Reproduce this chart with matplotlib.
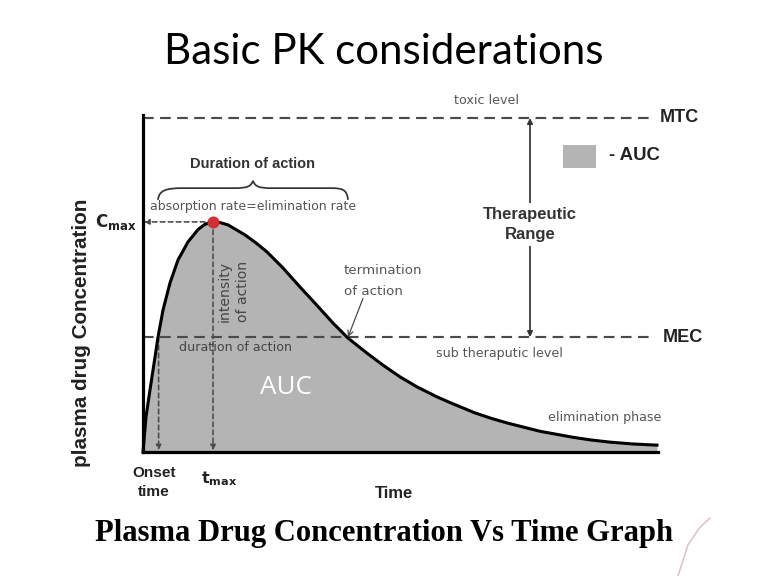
import numpy as np
import matplotlib.pyplot as plt
from matplotlib.path import Path
from matplotlib.patches import PathPatch, Rectangle

# Plasma concentration curve (time in h, concentration in arbitrary units)
time = [0.0, 0.15, 0.35, 0.6, 0.75, 1.0, 1.35, 1.75, 2.25, 2.75, 3.1, 3.5, 3.85, 4.25,
        5.1, 5.65, 6.2, 7.0, 7.85, 8.7, 9.5, 10.25, 11.2, 12.0, 12.85, 13.7, 14.7,
        15.35, 16.6, 17.4, 18.2, 19.85, 21.5, 22.4, 23.35, 24.5, 25.7]
conc = [0.0, 1.05, 1.86, 2.84, 3.44, 4.25, 5.06, 5.75, 6.29, 6.66, 6.82, 6.89, 6.87, 6.80,
        6.50, 6.26, 5.99, 5.51, 4.94, 4.39, 3.86, 3.41, 2.96, 2.60, 2.25, 1.95, 1.65,
        1.48, 1.17, 1.01, 0.87, 0.62, 0.44, 0.36, 0.295, 0.24, 0.205]

mtc = 10.0
mec = 3.44
cmax = 6.89
tmax = 3.5
onset = 0.78
t_end_mec = 10.25

fig = plt.figure(figsize=(8, 6), dpi=96)
ax = fig.add_axes([0, 0, 1, 1])
# pixel-matched frame: 20 px per hour, 33.4 px per concentration unit
ax.set_xlim(-143 / 20, (768 - 143) / 20)
ax.set_ylim(-(576 - 452) / 33.4, 452 / 33.4)
ax.axis('off')

sans = 'Liberation Sans'
grey_txt = '#555555'
dash_col = '#4a4a4a'

# AUC fill and curve
ax.fill_between(time, conc, 0, color='#b4b4b4', lw=0, zorder=1)
ax.plot(time, conc, color='black', lw=2.3, zorder=3, solid_joinstyle='round')

# axes
ax.plot([0, 0], [0, 10.1], color='black', lw=2.4, zorder=4)
ax.plot([0, 25.75], [0, 0], color='black', lw=2.4, zorder=4)

# MTC / MEC levels
ax.plot([0, 25.45], [mtc, mtc], color=dash_col, lw=1.6, ls=(0, (5, 3)), zorder=2)
ax.plot([0, 25.6], [mec, mec], color=dash_col, lw=1.6, ls=(0, (5, 3)), zorder=2)
ax.text(25.85, mtc, 'MTC', fontsize=13.5, fontweight='bold', family=sans, va='center', color='#222222')
ax.text(26.0, mec, 'MEC', fontsize=13.5, fontweight='bold', family=sans, va='center', color='#222222')
ax.text(17.15, 10.51, 'toxic level', fontsize=9.5, color=grey_txt, ha='center', va='center')
ax.text(17.8, 2.96, 'sub theraputic level', fontsize=9.5, color=grey_txt, ha='center', va='center')

# Cmax, tmax, onset markers
arrow_kw = dict(arrowstyle='-|>', color=dash_col, lw=1.2, ls=(0, (3, 2)),
                mutation_scale=8, shrinkA=0, shrinkB=0)
ax.annotate('', xy=(0.05, cmax), xytext=(tmax, cmax), arrowprops=arrow_kw, zorder=2)
ax.annotate('', xy=(tmax, 0.05), xytext=(tmax, cmax), arrowprops=arrow_kw, zorder=2)
ax.annotate('', xy=(onset, 0.05), xytext=(onset, mec), arrowprops=arrow_kw, zorder=2)
ax.plot([tmax], [cmax], 'o', color='#d03030', ms=8, zorder=5)

ax.text(-0.3, cmax, r'$\mathbf{C_{max}}$', fontsize=12.5, ha='right', va='center', color='#222222')
ax.text(0.55, -0.91, 'Onset\ntime', fontsize=11.5, fontweight='bold', family=sans,
        ha='center', va='center', linespacing=1.4, color='#222222')
ax.text(3.8, -0.8, r'$\mathbf{t_{max}}$', fontsize=12, ha='center', va='center', color='#222222')
ax.text(12.55, -1.23, 'Time', fontsize=12.5, fontweight='bold', family=sans, ha='center', va='center',
        color='#222222')
ax.text(-3.05, 3.56, 'plasma drug Concentration', fontsize=15.5, fontweight='bold', family=sans,
        rotation=90, ha='center', va='center', color='#222222')

# annotations inside the chart
ax.text(7.15, 1.92, 'AUC', fontsize=19.5, color='white', ha='center', va='center', family='Open Sans')
ax.text(1.8, 3.14, 'duration of action', fontsize=9.5, color='#444444', va='center')
ax.text(4.53, 4.82, 'intensity\nof action', fontsize=10.5, color='#444444', rotation=90,
        ha='center', va='center', linespacing=1.45)
ax.text(0.35, 7.35, 'absorption rate=elimination rate', fontsize=9.4, color=grey_txt, va='center')
ax.text(5.5, 8.62, 'Duration of action', fontsize=11, fontweight='bold', family=sans,
        ha='center', va='center', color='#333333')
ax.text(10.05, 5.12, 'termination\nof action', fontsize=10, color=grey_txt, va='center',
        linespacing=1.75)
ax.annotate('', xy=(t_end_mec, mec), xytext=(11.0, 4.6),
            arrowprops=dict(arrowstyle='->', color='#444444', lw=0.9, shrinkA=0, shrinkB=0))
ax.text(20.25, 1.02, 'elimination phase', fontsize=9.5, color=grey_txt, va='center')

# curly brace over the duration of action
verts = [(0.75, 7.55), (0.8, 7.85), (1.2, 7.9), (2.0, 7.9),
         (4.6, 7.9),
         (5.2, 7.9), (5.4, 7.95), (5.5, 8.12),
         (5.6, 7.95), (5.8, 7.9), (6.4, 7.9),
         (9.4, 7.9),
         (10.0, 7.9), (10.2, 7.85), (10.25, 7.55)]
codes = [Path.MOVETO, Path.CURVE4, Path.CURVE4, Path.CURVE4,
         Path.LINETO,
         Path.CURVE4, Path.CURVE4, Path.CURVE4,
         Path.CURVE4, Path.CURVE4, Path.CURVE4,
         Path.LINETO,
         Path.CURVE4, Path.CURVE4, Path.CURVE4]
ax.add_patch(PathPatch(Path(verts, codes), fill=False, color='#333333', lw=1.3))

# therapeutic range
ax.annotate('', xy=(19.35, mtc), xytext=(19.35, mec),
            arrowprops=dict(arrowstyle='<|-|>', color='#333333', lw=1.3, mutation_scale=8,
                            shrinkA=0, shrinkB=0))
ax.text(19.35, 6.8, 'Therapeutic\nRange', fontsize=12.5, fontweight='bold', family=sans,
        ha='center', va='center', linespacing=1.4, color='#333333',
        bbox=dict(fc='white', ec='none', pad=3))

# legend swatch
ax.add_patch(Rectangle((21.0, 8.5), 1.65, 0.7, color='#b4b4b4', lw=0))
ax.text(23.3, 8.87, '- AUC', fontsize=14, fontweight='bold', family=sans, va='center',
        color='#222222')

# faint logo remnant at the right edge
ax.plot([26.75, 27.25, 27.85, 28.35], [-3.71, -2.78, -2.25, -1.98], color='#dcc4c7', lw=1.2)

# titles
fig.text(0.5, 1 - 52 / 576, 'Basic PK considerations', fontsize=31.5, family='Lato',
         ha='center', va='center')
fig.text(0.5, 1 - 533 / 576, 'Plasma Drug Concentration Vs Time Graph', fontsize=23,
         family='Liberation Serif', fontweight='bold', ha='center', va='center')

fig.savefig('out.png', dpi=96)
